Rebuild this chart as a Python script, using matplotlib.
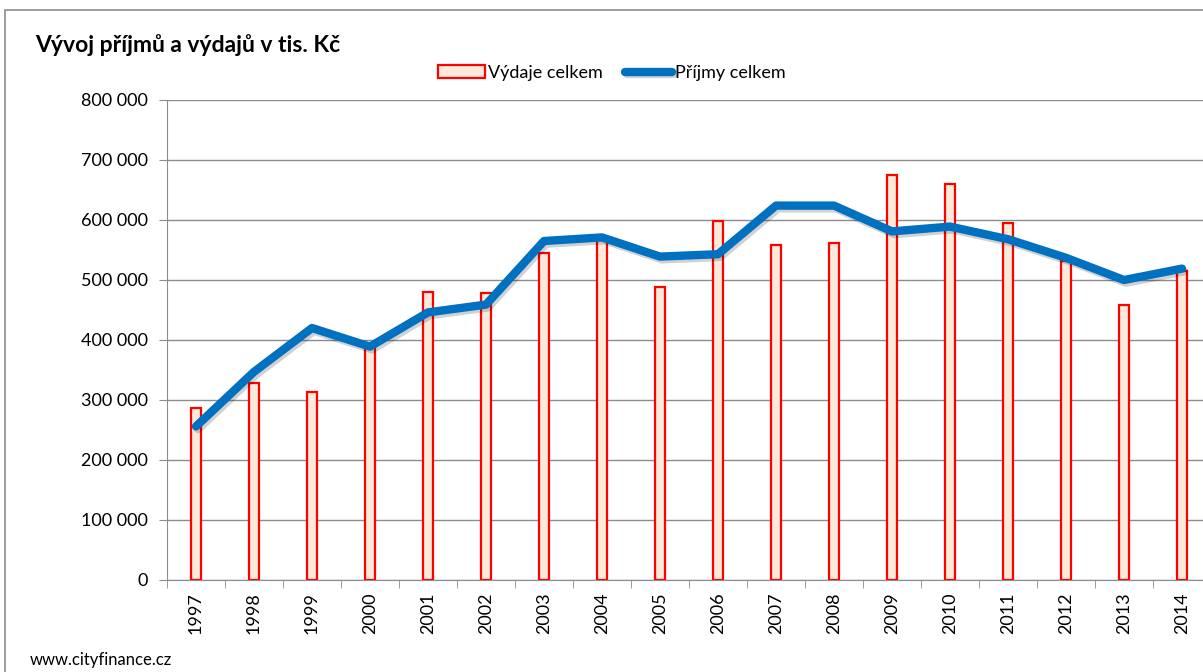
import matplotlib
matplotlib.use("Agg")
import matplotlib.pyplot as plt
import matplotlib.patheffects as pe
from matplotlib.patches import Rectangle

# data (tis. Kč)
years = ["1997", "1998", "1999", "2000", "2001", "2002", "2003", "2004", "2005",
         "2006", "2007", "2008", "2009", "2010", "2011", "2012", "2013", "2014"]
vydaje = [286000, 329000, 314000, 388000, 480000, 478000, 545000, 566000, 489000,
          599000, 559000, 562000, 675000, 660000, 595000, 531000, 458000, 515000]
prijmy = [256000, 347000, 420000, 389000, 446000, 459000, 565000, 571000, 539000,
          543000, 624000, 624000, 581000, 589000, 568000, 537000, 500000, 519000]
y_ticks = [0, 100000, 200000, 300000, 400000, 500000, 600000, 700000, 800000]

plt.rcParams["font.family"] = ["Lato", "DejaVu Sans"]

fig = plt.figure(figsize=(12.03, 6.72), dpi=100)
W, H = 1203, 672
ax = fig.add_axes([167 / W, (H - 580) / H, 1044 / W, 480 / H])

x = list(range(len(years)))

# outer chart border
fig.patches.append(Rectangle((5 / W, -0.1), 1.2, (H - 10) / H + 0.1, transform=fig.transFigure,
                             fill=False, edgecolor="#8c8c8c", linewidth=1.2))

bars = ax.bar(x, vydaje, width=0.18, color="#fde9d9", edgecolor="#ff0000", linewidth=1.6,
              label="Výdaje celkem", zorder=2)
line, = ax.plot(x, prijmy, color="#0070c0", linewidth=6, solid_capstyle="round",
                label="Příjmy celkem", zorder=3,
                path_effects=[pe.SimpleLineShadow(offset=(1.5, -2), alpha=0.18), pe.Normal()])

ax.set_xlim(-0.5, len(years) - 0.5)
ax.set_ylim(0, 800000)
ax.set_yticks(y_ticks)
ax.set_yticklabels([f"{v:,}".replace(",", " ") for v in y_ticks], fontsize=13)
ax.set_xticks(x)
ax.set_xticklabels(years, rotation=90, fontsize=13)
ax.set_xticks([i - 0.5 for i in range(len(years) + 1)], minor=True)
ax.tick_params(axis="x", which="major", length=0, pad=9)
ax.tick_params(axis="x", which="minor", length=6, color="#8c8c8c", direction="out")
ax.tick_params(axis="y", length=6, color="#8c8c8c", direction="out", pad=8)

ax.grid(axis="y", color="#8c8c8c", linewidth=1)
ax.set_axisbelow(True)
for s in ["top", "right"]:
    ax.spines[s].set_visible(False)
for s in ["left", "bottom"]:
    ax.spines[s].set_color("#8c8c8c")

fig.text(35 / W, 1 - 45 / H, "Vývoj příjmů a výdajů v tis. Kč", fontsize=16.5, fontweight="bold",
         va="center", ha="left")
fig.text(30 / W, 1 - 660 / H, "www.cityfinance.cz", fontsize=12, va="center", ha="left")

fig.legend([bars, line], ["Výdaje celkem", "Příjmy celkem"], loc="center",
           bbox_to_anchor=(612 / W, 1 - 73 / H), ncol=2, frameon=False,
           fontsize=13, handlelength=2.6, handletextpad=0.2, columnspacing=1.2)

fig.savefig("out.png", dpi=100)
